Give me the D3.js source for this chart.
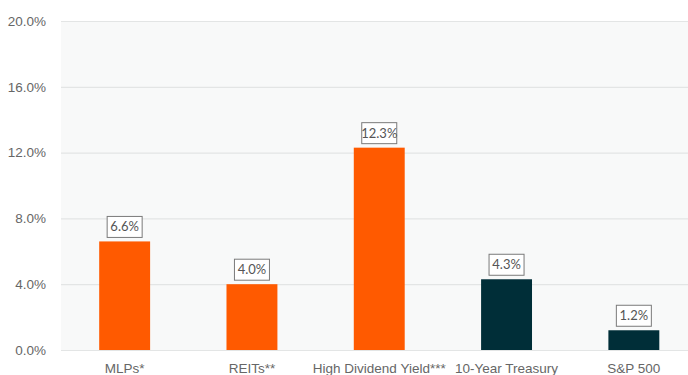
<!DOCTYPE html>
<html><head><meta charset="utf-8">
<script src="https://cdn.jsdelivr.net/npm/d3@7"></script>
<style>body{margin:0;background:#fff;}svg{display:block;font-family:Lato,"Open Sans",sans-serif;}</style>
</head><body><svg id="c" width="688" height="375"></svg>
<script>
const categories = ["MLPs*", "REITs**", "High Dividend Yield***", "10-Year Treasury", "S&P 500"];
const values = [6.6, 4.0, 12.3, 4.3, 1.2];
const barColors = ["#ff5a00", "#ff5a00", "#ff5a00", "#002e38", "#002e38"];
const yTicks = [0, 4, 8, 12, 16, 20];

const svg = d3.select("#c");
const mLeft = 61, mTop = 21, mBottom = 350;
const x = d3.scaleBand().domain(categories).range([mLeft, mLeft + 5 * 127.3]).paddingInner(0.6).paddingOuter(0.3);
const y = d3.scaleLinear().domain([0, 20]).range([mBottom, mTop]);

svg.append("rect").attr("x", mLeft).attr("y", mTop).attr("width", 688 - mLeft).attr("height", mBottom - mTop).attr("fill", "#f8f9f9");

const yAxis = svg.append("g").attr("transform", `translate(${mLeft},0)`)
  .call(d3.axisLeft(y).tickValues(yTicks).tickFormat(d => d.toFixed(1) + "%").tickSize(-(688 - mLeft)).tickPadding(15));
yAxis.select(".domain").remove();
yAxis.selectAll(".tick line").attr("stroke", "#e3e5e5").attr("stroke-width", 1.2);
yAxis.selectAll(".tick text").attr("fill", "#666").style("font-size", "13.5px");

svg.selectAll("rect.bar").data(values).join("rect").attr("class", "bar")
  .attr("x", (d, i) => x(categories[i])).attr("width", x.bandwidth())
  .attr("y", d => y(d)).attr("height", d => y(0) - y(d))
  .attr("fill", (d, i) => barColors[i]);

const lab = svg.selectAll("g.lab").data(values).join("g").attr("class", "lab")
  .attr("transform", (d, i) => `translate(${x(categories[i]) + x.bandwidth() / 2},${y(d) - 4})`);
lab.append("rect").attr("x", -17.5).attr("y", -21).attr("width", 35).attr("height", 21)
  .attr("fill", "#fff").attr("stroke", "#7a7a7a").attr("stroke-width", 1);
lab.append("text").attr("y", -6).attr("text-anchor", "middle").attr("fill", "#555").style("font-size", "13px")
  .text(d => d.toFixed(1) + "%");

const xAxis = svg.append("g").attr("transform", `translate(0,${mBottom})`)
  .call(d3.axisBottom(x).tickSize(0).tickPadding(13));
xAxis.select(".domain").remove();
xAxis.selectAll(".tick text").attr("fill", "#666").style("font-size", "13.5px");
</script></body></html>
